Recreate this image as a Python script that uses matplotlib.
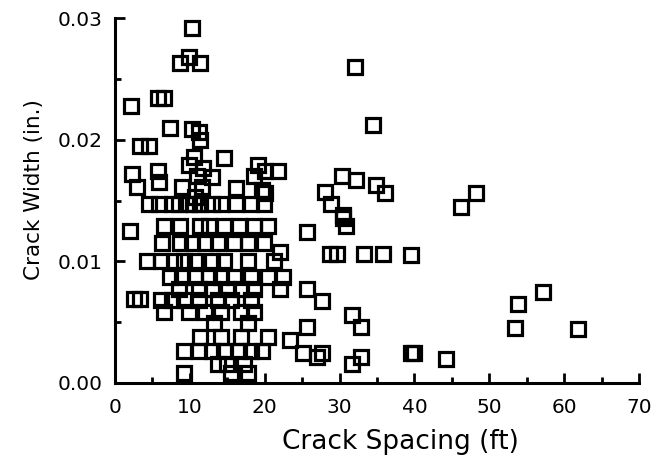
import matplotlib
matplotlib.use("Agg")
import matplotlib.pyplot as plt
from matplotlib.ticker import MultipleLocator, FormatStrFormatter

# Crack spacing (ft) and crack width (in.)
spacing = [
    10.3, 8.7, 9.9, 11.3,
    2.2, 5.7, 6.6, 7.4, 10.3, 11.2, 11.4, 3.3, 4.5,
    32.1, 34.5, 14.6, 10.5, 9.9,
    2.3, 3.0, 5.7, 5.9, 11.8, 12.9, 10.9, 11.6, 10.7, 8.9, 16.2,
    19.1, 20.1, 21.8, 18.6, 19.7, 20.1,
    30.3, 32.2, 28.0, 34.9, 36.1, 28.9, 30.4, 48.2, 46.2,
    4.6, 5.9, 7.6, 8.6, 9.9, 10.5, 11.3, 12.9, 14.2, 16.2, 18.2, 19.9,
    2.0, 6.6, 8.7, 11.3, 12.6, 14.6, 16.6, 18.6, 20.5,
    6.3, 8.7, 10.3, 12.0, 13.8, 15.9, 17.8, 19.9, 22.1,
    4.3, 6.1, 7.9, 9.2, 10.7, 12.9, 14.6, 17.8, 21.2,
    7.4, 8.9, 10.7, 12.5, 14.2, 15.9, 18.2, 20.4, 22.5,
    8.6, 11.2, 12.9, 15.1, 16.8, 18.6, 22.1,
    2.6, 3.4, 6.1, 7.6, 9.2, 11.2, 13.8, 15.5, 18.2,
    6.6, 9.9, 12.0, 14.2, 16.8, 18.6,
    13.2, 17.8,
    11.3, 14.2, 16.8, 20.4, 23.4,
    9.2, 11.2, 12.9, 14.6, 16.6, 18.2, 19.7,
    13.8, 14.9, 17.2,
    9.2, 15.5, 17.8,
    30.4, 30.9, 25.7, 28.7, 29.6, 33.3, 35.8, 39.6,
    25.7, 27.6, 31.7, 32.9, 25.7,
    25.1, 27.6, 27.0, 31.7, 32.9, 39.9, 39.5, 44.2,
    53.9, 53.4, 57.2, 61.8,
]
width = [
    0.0292, 0.0263, 0.0268, 0.0263,
    0.0228, 0.0234, 0.0234, 0.0210, 0.0209, 0.0206, 0.0200, 0.0195, 0.0195,
    0.0260, 0.0212, 0.0185, 0.0186, 0.0179,
    0.0172, 0.0161, 0.0174, 0.0165, 0.0177, 0.0169, 0.0170, 0.0161, 0.0153, 0.0161, 0.0160,
    0.0179, 0.0174, 0.0174, 0.0170, 0.0159, 0.0156,
    0.0170, 0.0167, 0.0157, 0.0163, 0.0156, 0.0147, 0.0138, 0.0156, 0.0145,
    0.0147, 0.0147, 0.0147, 0.0147, 0.0147, 0.0147, 0.0147, 0.0147, 0.0147, 0.0147, 0.0147, 0.0147,
    0.0125, 0.0129, 0.0129, 0.0129, 0.0129, 0.0129, 0.0129, 0.0129, 0.0129,
    0.0115, 0.0115, 0.0115, 0.0115, 0.0115, 0.0115, 0.0115, 0.0115, 0.0108,
    0.0100, 0.0100, 0.0100, 0.0100, 0.0100, 0.0100, 0.0100, 0.0100, 0.0100,
    0.0087, 0.0087, 0.0087, 0.0087, 0.0087, 0.0087, 0.0087, 0.0087, 0.0087,
    0.0077, 0.0077, 0.0077, 0.0077, 0.0077, 0.0077, 0.0077,
    0.0069, 0.0069, 0.0068, 0.0068, 0.0068, 0.0068, 0.0068, 0.0068, 0.0068,
    0.0058, 0.0058, 0.0058, 0.0058, 0.0058, 0.0058,
    0.0049, 0.0049,
    0.0038, 0.0038, 0.0038, 0.0038, 0.0035,
    0.0026, 0.0026, 0.0026, 0.0026, 0.0026, 0.0026, 0.0026,
    0.0016, 0.0016, 0.0016,
    0.0008, 0.0008, 0.0008,
    0.0136, 0.0129, 0.0124, 0.0106, 0.0106, 0.0106, 0.0106, 0.0105,
    0.0077, 0.0067, 0.0056, 0.0046, 0.0046,
    0.0025, 0.0025, 0.0021, 0.0016, 0.0021, 0.0025, 0.0025, 0.0020,
    0.0065, 0.0045, 0.0075, 0.0044,
]

x_ticks = [0, 10, 20, 30, 40, 50, 60, 70]
y_ticks = [0.00, 0.01, 0.02, 0.03]

plt.rcParams['font.family'] = ['DejaVu Sans']

fig = plt.figure(figsize=(6.64, 4.66), dpi=100)
ax = fig.add_axes([115/664, 83/466, 524/664, 365/466])

ax.plot(spacing, width, linestyle='none', marker='s', markersize=10,
        markerfacecolor='none', markeredgecolor='black', markeredgewidth=2.3,
        clip_on=False)

ax.set_xlim(0, 70)
ax.set_ylim(0, 0.03)
ax.set_xticks(x_ticks)
ax.set_yticks(y_ticks)
ax.xaxis.set_minor_locator(MultipleLocator(5))
ax.yaxis.set_minor_locator(MultipleLocator(0.005))
ax.yaxis.set_major_formatter(FormatStrFormatter('%.2f'))

for side in ('top', 'right'):
    ax.spines[side].set_visible(False)
for side in ('left', 'bottom'):
    ax.spines[side].set_linewidth(2.2)

ax.tick_params(which='major', direction='in', length=7, width=2, labelsize=14.5)
ax.tick_params(axis='x', which='major', pad=11)
ax.tick_params(axis='y', which='major', pad=9)
ax.tick_params(which='minor', direction='in', length=4, width=2)

ax.set_xlabel('Crack Spacing (ft)', fontsize=19)
ax.xaxis.set_label_coords(0.545, -0.125)
ax.set_ylabel('Crack Width (in.)', fontsize=15.5)
ax.yaxis.set_label_coords(-0.135, 0.53)

fig.savefig('out.png', dpi=100)
